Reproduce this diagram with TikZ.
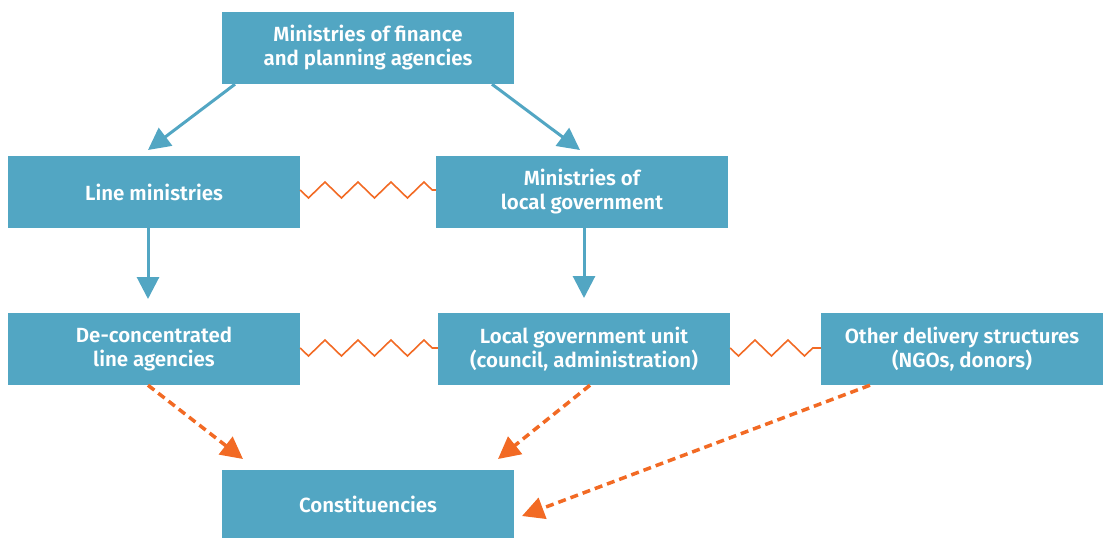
\documentclass[tikz,border=0pt]{standalone}
\usepackage{fontspec}
\setmainfont{Fira Sans}[BoldFont={Fira Sans SemiBold}]
\usetikzlibrary{arrows.meta,decorations.pathmorphing,calc}
\definecolor{boxblue}{HTML}{52A6C3}
\definecolor{zorange}{HTML}{F26A24}
\tikzset{
  box/.style={fill=boxblue, minimum width=292pt, minimum height=72pt, inner sep=0pt,
    text=white, align=center, font=\fontsize{20.5}{24}\selectfont\bfseries},
  bluearrow/.style={draw=boxblue, line width=3pt, -{Triangle[length=22pt,width=22pt]}},
  dasharrow/.style={draw=zorange, line width=3.5pt, dash pattern=on 8pt off 5pt,
    -{Triangle[length=22pt,width=22pt]}},
  zz/.style={draw=zorange, line width=1.6pt, decorate,
    decoration={zigzag, segment length=33pt, amplitude=8pt, mirror}}
}
\begin{document}
\begin{tikzpicture}[x=1pt,y=-1pt]
\useasboundingbox (0,0) rectangle (1103,539);
\node[box] (top) at (368,48) {Ministries of finance\\and planning agencies};
\node[box] (lm) at (154,192) {Line ministries};
\node[box] (mlg) at (582,192) {Ministries of\\local government};
\node[box] (dc) at (154,349) {De-concentrated\\line agencies};
\node[box] (lgu) at (584,349) {Local government unit\\(council, administration)};
\node[box, minimum width=282pt] (oth) at (962,349) {Other delivery structures\\(NGOs, donors)};
\node[box, minimum height=68pt] (con) at (368,504) {Constituencies};
\coordinate (t1) at (148,150);
\coordinate (t2) at (580,150);
\coordinate (t3) at (148,299);
\coordinate (t4) at (584,298);
\coordinate (t5) at (243,459);
\coordinate (t6) at (498,459);
\coordinate (t7) at (522,516);
\draw[bluearrow] (top.south west -| 235,0) -- (t1);
\draw[bluearrow] (top.south west -| 492,0) -- (t2);
\draw[bluearrow] (lm.south west -| 148,0) -- (t3);
\draw[bluearrow] (mlg.south west -| 584,0) -- (t4);
\draw[dasharrow] (dc.south west -| 148,0) -- (t5);
\draw[dasharrow] (lgu.south west -| 590,0) -- (t6);
\draw[dasharrow] (oth.south west -| 870,0) -- (t7);
\draw[zz] ($(lm.east)+(0,-2)$) -- ($(mlg.west)+(0,-2)$);
\draw[zz] ($(dc.east)+(0,-1)$) -- ($(lgu.west)+(0,-1)$);
\draw[zz] ($(lgu.east)+(0,-1)$) -- ($(oth.west)+(0,-1)$);
\end{tikzpicture}
\end{document}
